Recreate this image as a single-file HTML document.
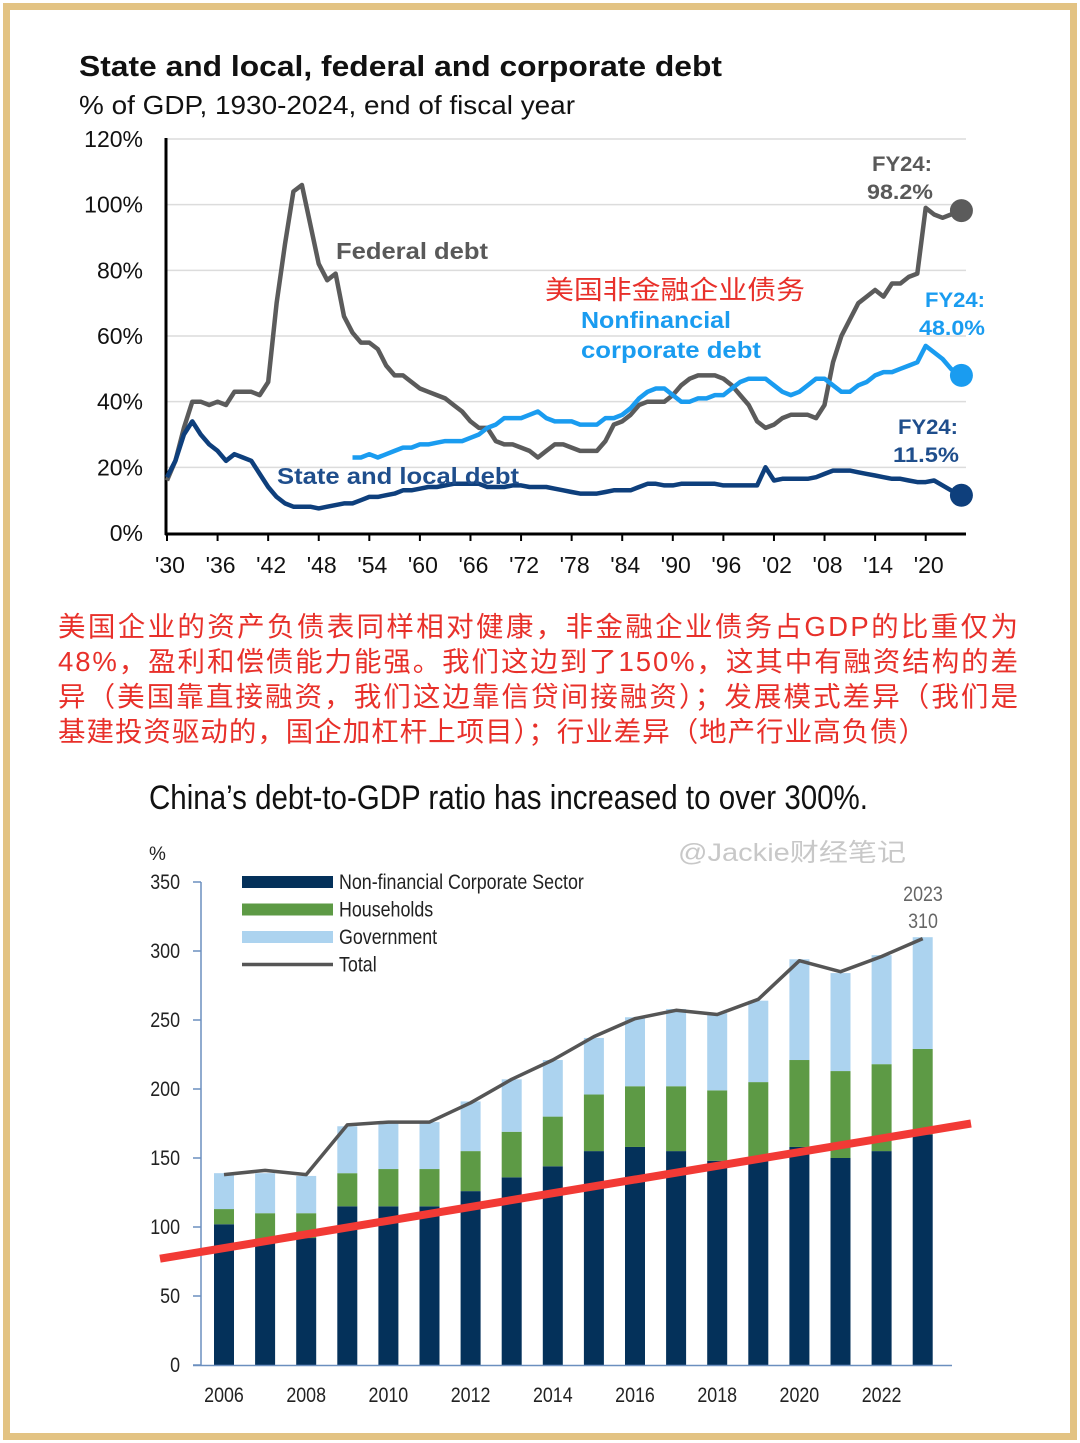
<!DOCTYPE html>
<html><head><meta charset="utf-8"><style>
html,body{margin:0;padding:0;background:#fff;}
svg{display:block;}
text{font-family:"Liberation Sans","Noto Sans CJK SC",sans-serif;}
</style></head><body>
<svg id="s" width="1080" height="1443" viewBox="0 0 1080 1443" xmlns="http://www.w3.org/2000/svg">
<rect x="0" y="0" width="1080" height="1443" fill="#fff"/>
<rect x="6.5" y="6.5" width="1067" height="1430" fill="none" stroke="#e3c383" stroke-width="7"/>
<text x="79" y="76" font-size="29" font-weight="bold" fill="#111" textLength="643" lengthAdjust="spacingAndGlyphs">State and local, federal and corporate debt</text>
<text x="79" y="114" font-size="26" fill="#111" textLength="496" lengthAdjust="spacingAndGlyphs">% of GDP, 1930-2024, end of fiscal year</text>
<g id="topChart"></g>
<g font-size="27.5" fill="#e8302a">
<text x="58" y="636" textLength="960" lengthAdjust="spacing">美国企业的资产负债表同样相对健康，非金融企业债务占GDP的比重仅为</text>
<text x="58" y="671" textLength="960" lengthAdjust="spacing">48%，盈利和偿债能力能强。我们这边到了150%，这其中有融资结构的差</text>
<text x="58" y="706" textLength="960" lengthAdjust="spacing">异（美国靠直接融资，我们这边靠信贷间接融资）；发展模式差异（我们是</text>
<text x="58" y="741" textLength="868" lengthAdjust="spacing">基建投资驱动的，国企加杠杆上项目）；行业差异（地产行业高负债）</text>
</g>
<text x="149" y="809" font-size="34" fill="#111" textLength="719" lengthAdjust="spacingAndGlyphs">China’s debt-to-GDP ratio has increased to over 300%.</text>
<text x="678" y="861" font-size="25" fill="#c8c8c8" textLength="228" lengthAdjust="spacingAndGlyphs">@Jackie财经笔记</text>
<g id="botChart"></g>
</svg>
<script>
const NS='http://www.w3.org/2000/svg';
function mk(parent,tag,attrs,txt){const e=document.createElementNS(NS,tag);for(const k in attrs)e.setAttribute(k,attrs[k]);if(txt!==undefined)e.textContent=txt;parent.appendChild(e);return e;}

// ===== Top chart data =====
const fedStart=1930;
const federalDebt=[16,22,32,40,40,39,40,39,43,43,43,42,46,70,88,104,106,94,82,77,79,66,61,58,58,56,51,48,48,46,44,43,42,41,39,37,34,32,32,28,27,27,26,25,23,25,27,27,26,25,25,25,28,33,34,36,39,40,40,40,42,45,47,48,48,48,47,45,42,39,34,32,33,35,36,36,36,35,39,52,60,65,70,72,74,72,76,76,78,79,99,97,96,97,98.2];
const corpStart=1952;
const corporateDebt=[23,23,24,23,24,25,26,26,27,27,27.5,28,28,28,29,30,32,33,35,35,35,36,37,35,34,34,34,33,33,33,35,35,36,38,41,43,44,44,42,40,40,41,41,42,42,44,46,47,47,47,45,43,42,43,45,47,47,45,43,43,45,46,48,49,49,50,51,52,57,55,53,50,48];
const stateStart=1930;
const stateDebt=[17,22,30,34,30,27,25,22,24,23,22,18,14,11,9,8,8,8,7.5,8,8.5,9,9,10,11,11,11.5,12,13,13,13.5,14,14,14.5,15,15,15,15,14,14,14,14.5,14.5,14,14,14,13.5,13,12.5,12,12,12,12.5,13,13,13,14,15,15,14.5,14.5,15,15,15,15,15,14.5,14.5,14.5,14.5,14.5,20,16,16.5,16.5,16.5,16.5,17,18,19,19,19,18.5,18,17.5,17,16.5,16.5,16,15.5,15.5,16,14.5,13,11.5];
const topYTicks=[0,20,40,60,80,100,120];
const topXTicks=["'30","'36","'42","'48","'54","'60","'66","'72","'78","'84","'90","'96","'02","'08","'14","'20"];

const tg=document.getElementById('topChart');
const tx=y=>167+(y-1930)*8.43;
const ty=v=>533-v*(394/120);
topYTicks.forEach(v=>{
  if(v>0){const g=mk(tg,'line',{x1:166,x2:966,y1:ty(v),y2:ty(v),stroke:'#dcdcdc','stroke-width':1.5});
  
  }
  const t=mk(tg,'text',{x:143,y:ty(v)+8,'font-size':23,'text-anchor':'end',fill:'#111'},v+'%');
  
  
});
const ax=mk(tg,'line',{x1:166,x2:166,y1:138,y2:535,stroke:'#000','stroke-width':3});


const bx=mk(tg,'line',{x1:165,x2:966,y1:534,y2:534,stroke:'#000','stroke-width':3});


topXTicks.forEach((l,i)=>{
  const yr=1930+i*6;
  const tk=mk(tg,'line',{x1:tx(yr),x2:tx(yr),y1:534,y2:541,stroke:'#000','stroke-width':2});
  
  
  const t=mk(tg,'text',{x:tx(yr)+3,y:573,'font-size':23,'text-anchor':'middle',fill:'#111'},l);
  
  
});
function series(arr,start,color,name){
  const d=arr.map((v,i)=>(i?'L':'M')+tx(start+i).toFixed(1)+','+ty(v).toFixed(1)).join(' ');
  const p=mk(tg,'path',{d:d,fill:'none',stroke:color,'stroke-width':4.5,'stroke-linejoin':'round'});
  
  
  const last=arr.length-1;
  const c=mk(tg,'circle',{cx:tx(start+last)+2,cy:ty(arr[last]),r:11.5,fill:color});
  
  
}
series(federalDebt,fedStart,'#5b5b5b','federal-debt');
series(corporateDebt,corpStart,'#1a9cf0','corporate-debt');
series(stateDebt,stateStart,'#0e3f7c','state-local-debt');
function lab(x,y,s,fs,col,name,bold,len){
  const a={x:x,y:y,'font-size':fs,fill:col};if(bold)a['font-weight']='bold';if(len){a.textLength=len;a.lengthAdjust='spacingAndGlyphs';}
  const t=mk(tg,'text',a,s);
  
  
}
lab(336,259,'Federal debt',23,'#595959','federal-debt-label',true,152);
lab(545,299,'美国非金融企业债务',26,'#e8302a','corporate-cn-label',false,260);
lab(581,328,'Nonfinancial',23,'#1a9cf0','corporate-label-1',true,150);
lab(581,358,'corporate debt',23,'#1a9cf0','corporate-label-2',true,180);
lab(277,484,'State and local debt',23,'#1f4e8c','state-local-label',true,242);
lab(872,171,'FY24:',21,'#595959','federal-fy24-label',true,60);
lab(867,199,'98.2%',21,'#595959','federal-fy24-value',true,66);
lab(925,307,'FY24:',21,'#1a9cf0','corporate-fy24-label',true,60);
lab(919,335,'48.0%',21,'#1a9cf0','corporate-fy24-value',true,66);
lab(898,434,'FY24:',21,'#1f4e8c','state-fy24-label',true,60);
lab(893,462,'11.5%',21,'#1f4e8c','state-fy24-value',true,66);

// ===== Bottom chart data =====
const years=[2006,2007,2008,2009,2010,2011,2012,2013,2014,2015,2016,2017,2018,2019,2020,2021,2022,2023];
const corporate=[102,89,92,115,115,115,126,136,144,155,158,155,148,148,158,150,155,167];
const households=[11,21,18,24,27,27,29,33,36,41,44,47,51,57,63,63,63,62];
const government=[26,29,27,34,34,34,36,38,41,41,50,56,56,59,73,71,79,81];
const totalLine=[138,141,138,174,176,176,190,207,221,238,251,257,254,265,293,285,296,309];
const trendEnds=[77,175];
const botYTicks=[0,50,100,150,200,250,300,350];
const botXTicks=[2006,2008,2010,2012,2014,2016,2018,2020,2022];

const bg=document.getElementById('botChart');
const bxs=y=>224+(y-2006)*41.1;
const bys=v=>1365-v*(483/350);
botYTicks.forEach(v=>{
  const tk=mk(bg,'line',{x1:193,x2:201,y1:bys(v),y2:bys(v),stroke:'#6b8fbf','stroke-width':1.5});
  
  
  const t=mk(bg,'text',{x:180/0.85,y:bys(v)+7,'font-size':21,'text-anchor':'end',fill:'#222',transform:'scale(0.85,1)'},String(v));
  
  
});
const pct=mk(bg,'text',{x:149,y:860,'font-size':19,fill:'#222'},'%');


const yax=mk(bg,'line',{x1:201,x2:201,y1:bys(350),y2:1366,stroke:'#6b8fbf','stroke-width':1.5});


years.forEach((yr,i)=>{
  const x=bxs(yr)-10,w=20;
  const segs=[[0,corporate[i],'#04315a','corporate'],[corporate[i],corporate[i]+households[i],'#5d9a45','households'],[corporate[i]+households[i],corporate[i]+households[i]+government[i],'#acd3ef','government']];
  segs.forEach(s=>{
    const r=mk(bg,'rect',{x:x,y:bys(s[1]),width:w,height:bys(s[0])-bys(s[1]),fill:s[2]});
    
    
  });
});
const xax=mk(bg,'line',{x1:193,x2:952,y1:1365.5,y2:1365.5,stroke:'#6b8fbf','stroke-width':1.5});


botXTicks.forEach(yr=>{
  const t=mk(bg,'text',{x:bxs(yr)/0.85,y:1402,'font-size':21,'text-anchor':'middle',fill:'#222',transform:'scale(0.85,1)'},String(yr));
  
  
});
const tl=mk(bg,'path',{d:totalLine.map((v,i)=>(i?'L':'M')+bxs(years[i]).toFixed(1)+','+bys(v).toFixed(1)).join(' '),fill:'none',stroke:'#555','stroke-width':3.5,'stroke-linejoin':'round'});


const tr=mk(bg,'line',{x1:160,y1:bys(trendEnds[0]),x2:971,y2:bys(trendEnds[1]),stroke:'#f23a35','stroke-width':8});


const leg=[['#04315a','Non-financial Corporate Sector','rect'],['#5d9a45','Households','rect'],['#acd3ef','Government','rect'],['#555','Total','line']];
leg.forEach((l,i)=>{
  const y=882+i*27.5;
  if(l[2]==='rect'){const r=mk(bg,'rect',{x:242,y:y-6,width:91,height:12,fill:l[0]});
    
    }
  else{const r=mk(bg,'line',{x1:242,x2:333,y1:y,y2:y,stroke:l[0],'stroke-width':3.5});
    
    }
  const t=mk(bg,'text',{x:339/0.85,y:y+7,'font-size':21,fill:'#222',transform:'scale(0.85,1)'},l[1]);
  
  
});
const a1=mk(bg,'text',{x:923/0.85,y:901,'font-size':21,'text-anchor':'middle',fill:'#666',transform:'scale(0.85,1)'},'2023');


const a2=mk(bg,'text',{x:923/0.85,y:928,'font-size':21,'text-anchor':'middle',fill:'#666',transform:'scale(0.85,1)'},String(Math.round(totalLine[totalLine.length-1]+1)));


</script>
</body></html>
